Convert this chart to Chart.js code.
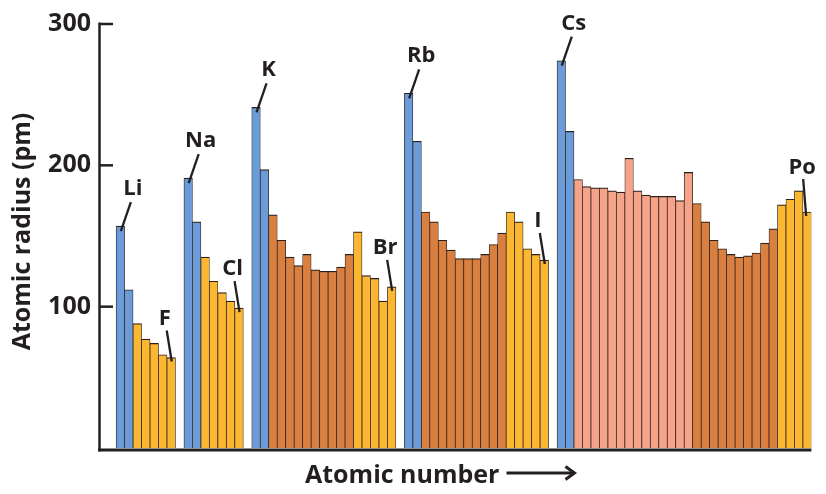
<!DOCTYPE html>
<html><head><meta charset="utf-8">
<script src="https://cdn.jsdelivr.net/npm/chart.js@4.4.1/dist/chart.umd.min.js"></script>
<style>html,body{margin:0;padding:0;background:#fff}#wrap{width:826px;height:494px;position:relative}</style>
</head><body><div id="wrap"><canvas id="c"></canvas></div>
<script>
// Elements shown (noble gases are left as empty slots)
const symbols = [
  'Li','Be','B','C','N','O','F',
  'Na','Mg','Al','Si','P','S','Cl',
  'K','Ca','Sc','Ti','V','Cr','Mn','Fe','Co','Ni','Cu','Zn','Ga','Ge','As','Se','Br',
  'Rb','Sr','Y','Zr','Nb','Mo','Tc','Ru','Rh','Pd','Ag','Cd','In','Sn','Sb','Te','I',
  'Cs','Ba','La','Ce','Pr','Nd','Pm','Sm','Eu','Gd','Tb','Dy','Ho','Er','Tm','Yb','Lu','Hf','Ta','W','Re','Os','Ir','Pt','Au','Hg','Tl','Pb','Bi','Po'
];
const atomicNumbers = [
  3,4,5,6,7,8,9,
  11,12,13,14,15,16,17,
  19,20,21,22,23,24,25,26,27,28,29,30,31,32,33,34,35,
  37,38,39,40,41,42,43,44,45,46,47,48,49,50,51,52,53,
  55,56,57,58,59,60,61,62,63,64,65,66,67,68,69,70,71,72,73,74,75,76,77,78,79,80,81,82,83,84
];
const radii = [
  157,112,88,77,74,66,64,
  191,160,135,118,110,104,99,
  241,197,165,147,135,129,137,126,125,125,128,137,153,122,120,104,114,
  251,217,167,160,147,140,134,134,134,137,144,152,167,160,141,137,133,
  274,224,190,185,184,184,182,181,205,182,179,178,178,178,175,195,173,160,147,141,137,135,136,138,145,155,172,176,182,167
];
const blocks = [
  's','s','p','p','p','p','p',
  's','s','p','p','p','p','p',
  's','s','d','d','d','d','d','d','d','d','d','d','p','p','p','p','p',
  's','s','d','d','d','d','d','d','d','d','d','d','p','p','p','p','p',
  's','s','f','f','f','f','f','f','f','f','f','f','f','f','f','f','d','d','d','d','d','d','d','d','d','d','p','p','p','p'
];
const yTicks = [100, 200, 300];
const alkaliLabels = ['Li','Na','K','Rb','Cs'];
const otherLabels = ['F','Cl','Br','I','Po'];
const yTitle = 'Atomic radius (pm)';
const xTitle = 'Atomic number';

const blockColors = {s:'#6b9bd8', p:'#fbb732', d:'#d98040', f:'#f5a489'};
const ink = '#231f20';
const FONT = '"Open Sans", "DejaVu Sans", sans-serif';

const points = atomicNumbers.map((z, i) => ({x: z, y: radii[i]}));

const decor = {
  id: 'decor',
  afterDraw(chart) {
    const ctx = chart.ctx;
    const ca = chart.chartArea;
    const ys = chart.scales.y;
    const meta = chart.getDatasetMeta(0);
    ctx.save();
    ctx.strokeStyle = ink;
    ctx.fillStyle = ink;
    ctx.lineCap = 'butt';
    // axes
    ctx.lineWidth = 2.5;
    ctx.beginPath();
    ctx.moveTo(ca.left - 0.5, ca.top - 1.5);
    ctx.lineTo(ca.left - 0.5, ca.bottom + 3.5);
    ctx.stroke();
    yTicks.forEach(v => {
      const y = ys.getPixelForValue(v);
      ctx.beginPath();
      ctx.moveTo(ca.left - 0.5, y);
      ctx.lineTo(ca.left + 13, y);
      ctx.stroke();
    });
    ctx.lineWidth = 3;
    ctx.beginPath();
    ctx.moveTo(ca.left - 1.75, ca.bottom + 2);
    ctx.lineTo(ca.right, ca.bottom + 2);
    ctx.stroke();

    // element labels with leader lines
    ctx.font = 'bold 22px ' + FONT;
    ctx.textAlign = 'center';
    ctx.textBaseline = 'alphabetic';
    ctx.lineWidth = 2.3;
    const drawLabel = (sym, tdx, tdy, l1x, l1y, l2x, l2y) => {
      const bar = meta.data[symbols.indexOf(sym)];
      const bx = bar.x, top = bar.y;
      ctx.fillText(sym, bx + tdx, top + tdy + 8);
      ctx.beginPath();
      ctx.moveTo(bx + l1x, top + l1y);
      ctx.lineTo(bx + l2x, top + l2y);
      ctx.stroke();
    };
    alkaliLabels.forEach(s => drawLabel(s, 12.5, -39, 10.5, -24, 0.5, 5));
    otherLabels.forEach(s => {
      if (s === 'Po') drawLabel(s, -5, -46, -4, -33, -1, 4);
      else drawLabel(s, -6.5, -41, -4.5, -27, 0.5, 4);
    });

    // axis titles
    ctx.font = 'bold 25px ' + FONT;
    ctx.textAlign = 'left';
    const tx = 305, ty = 483;
    ctx.fillText(xTitle, tx, ty);
    const tw = ctx.measureText(xTitle).width;
    const ax0 = tx + tw + 7, ax1 = tx + tw + 75, ay = ty - 10;
    ctx.lineWidth = 3;
    ctx.beginPath();
    ctx.moveTo(ax0, ay);
    ctx.lineTo(ax1 - 1, ay);
    ctx.stroke();
    ctx.beginPath();
    ctx.lineJoin = 'miter';
    ctx.moveTo(ax1 - 9, ay - 6.5);
    ctx.lineTo(ax1, ay);
    ctx.lineTo(ax1 - 9, ay + 6.5);
    ctx.stroke();

    ctx.save();
    ctx.translate(22.5, 231.5);
    ctx.rotate(-Math.PI / 2);
    ctx.textAlign = 'center';
    ctx.textBaseline = 'middle';
    ctx.fillText(yTitle, 0, 0);
    ctx.restore();
    ctx.restore();
  }
};

new Chart(document.getElementById('c'), {
  type: 'bar',
  data: {
    datasets: [{
      data: points,
      backgroundColor: ctx => blockColors[blocks[ctx.dataIndex]],
      borderColor: '#2b201b',
      borderWidth: {left: 0.75, right: 0.75, top: 1.2, bottom: 0},
      borderSkipped: false,
      barPercentage: 1,
      categoryPercentage: 1
    }]
  },
  options: {
    responsive: true,
    maintainAspectRatio: false,
    animation: false,
    layout: {padding: {top: 22, right: 14.6, bottom: 46, left: 0}},
    plugins: {legend: {display: false}, tooltip: {enabled: false}},
    scales: {
      x: {type: 'linear', min: 0.6, max: 84.5, offset: false, display: false},
      y: {
        min: 0, max: 300,
        afterFit: s => { s.width = 100; },
        afterBuildTicks: s => { s.ticks = yTicks.map(v => ({value: v})); },
        grid: {display: false, drawTicks: false},
        border: {display: false},
        ticks: {padding: 9, color: ink, font: {family: FONT, size: 25, weight: 'bold'}}
      }
    }
  },
  plugins: [decor]
});
</script>
</body></html>
